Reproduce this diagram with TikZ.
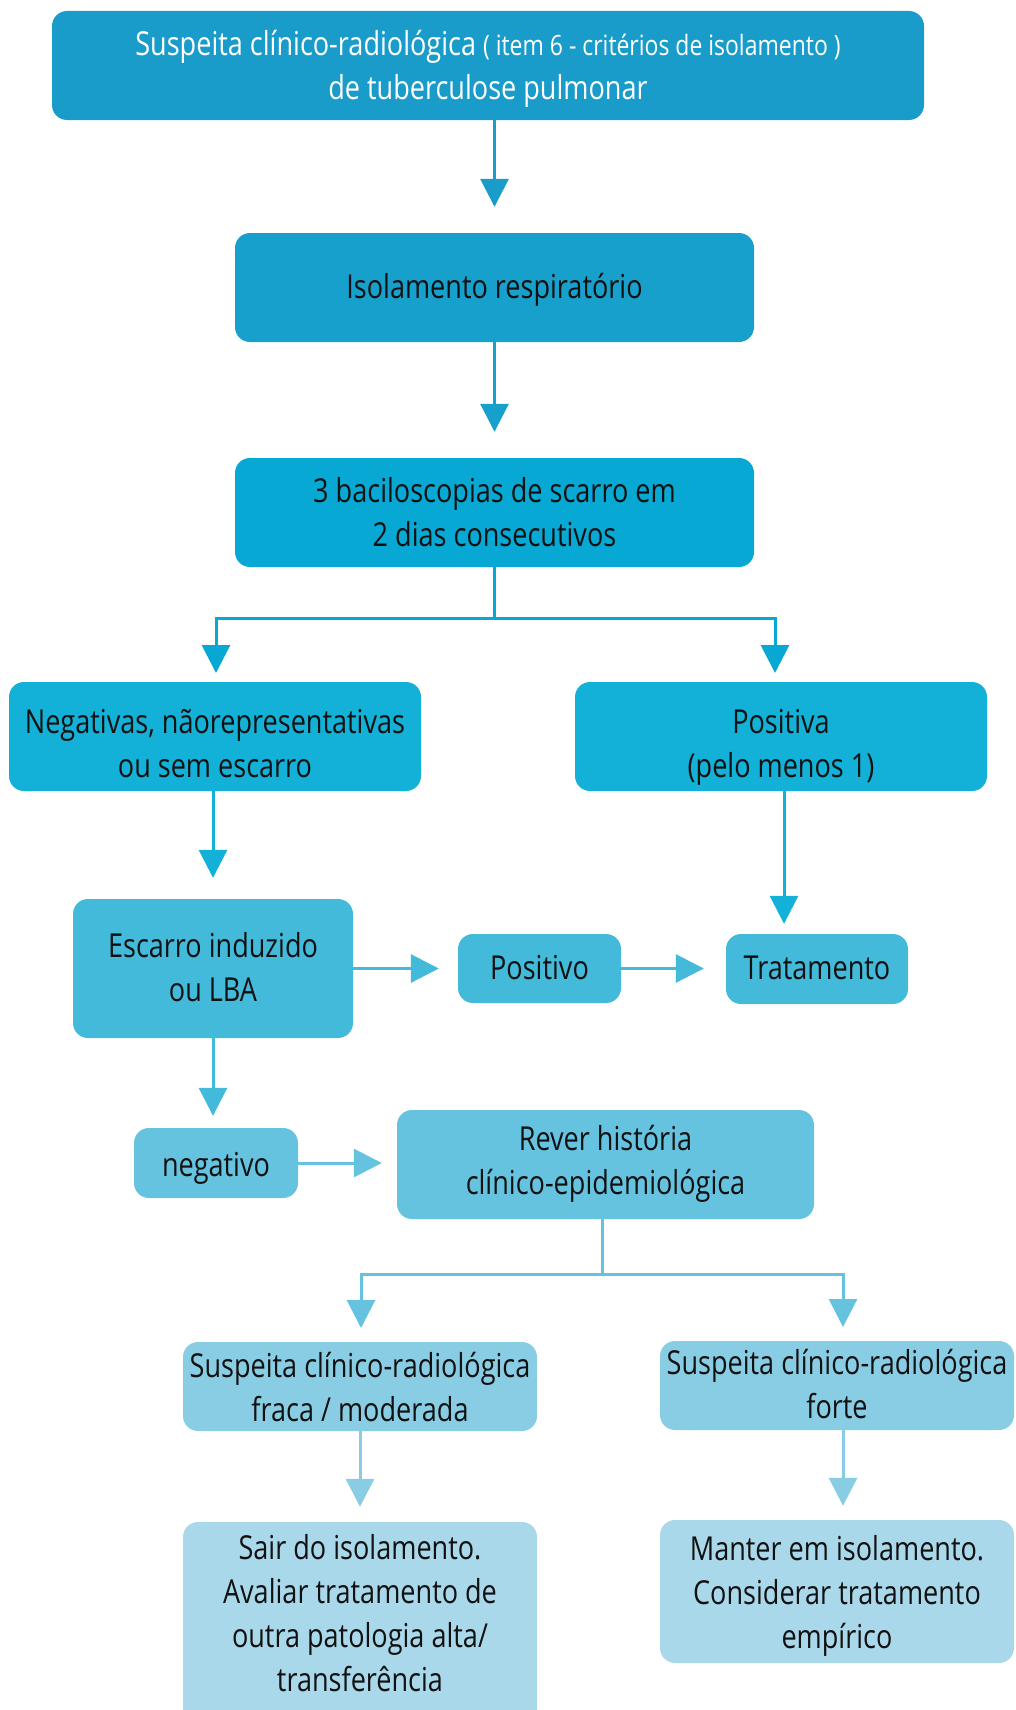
\documentclass[tikz,border=0pt]{standalone}
\usepackage{fontspec}
\setmainfont[FakeStretch=0.82]{Open Sans}
\usetikzlibrary{arrows.meta,calc}
\definecolor{cA}{HTML}{199CC9}
\definecolor{cB}{HTML}{18A0CC}
\definecolor{cC}{HTML}{07A8D3}
\definecolor{cD}{HTML}{13B1D7}
\definecolor{cE}{HTML}{44BADB}
\definecolor{cF}{HTML}{65C3E0}
\definecolor{cG}{HTML}{89CDE4}
\definecolor{cH}{HTML}{A9D8EB}
\definecolor{txt}{HTML}{111111}
\newcommand{\tb}[2][-3pt]{\raisebox{#1}[\height][\depth]{\begin{tabular}{@{}c@{}}#2\end{tabular}}}
\begin{document}
\begin{tikzpicture}[x=1pt,y=-1pt,
  box/.style={rounded corners=15pt, inner sep=0pt, align=center, text=txt,
    font=\fontsize{33}{44}\selectfont},
  ln/.style={line width=3pt},
  arr/.style={line width=3pt, -{Triangle[length=28pt,width=28pt]}}]
\clip (0,0) rectangle (1015,1710);
% nodes
\node[box, fill=cA, text=white, minimum width=872pt, minimum height=109pt] (top) at (488,65.5)
  {\tb{Suspeita clínico-radiológica {\fontsize{28}{44}\selectfont( item 6 - critérios de isolamento )}\\de tuberculose pulmonar}};
\node[box, fill=cB, minimum width=519pt, minimum height=109pt] (iso) at (494.5,287.5) {\tb[-2pt]{Isolamento respiratório}};
\node[box, fill=cC, minimum width=519pt, minimum height=109pt] (bac) at (494.5,512.5) {\tb{3 baciloscopias de scarro em\\2 dias consecutivos}};
\node[box, fill=cD, minimum width=412pt, minimum height=109pt] (neg) at (215,736.5) {\tb[-10pt]{Negativas, nãorepresentativas\\ou sem escarro}};
\node[box, fill=cD, minimum width=412pt, minimum height=109pt] (pos) at (781,736.5) {\tb[-10pt]{Positiva\\(pelo menos 1)}};
\node[box, fill=cE, minimum width=280pt, minimum height=139pt] (esc) at (213,968.5) {\tb[-2pt]{Escarro induzido\\ou LBA}};
\node[box, fill=cE, minimum width=163pt, minimum height=69pt] (pvo) at (539.5,968.5) {\tb[-2pt]{Positivo}};
\node[box, fill=cE, minimum width=182pt, minimum height=70pt] (trat) at (817,969) {\tb[-1.5pt]{Tratamento}};
\node[box, fill=cF, minimum width=164pt, minimum height=70pt] (ngv) at (216,1163) {\tb[-4.5pt]{negativo}};
\node[box, fill=cF, minimum width=417pt, minimum height=109pt] (rev) at (605.5,1164.5) {\tb[1pt]{Rever história\\clínico-epidemiológica}};
\node[box, fill=cG, minimum width=354pt, minimum height=89pt] (fraca) at (360,1386.5) {\tb[-4.5pt]{Suspeita clínico-radiológica\\fraca / moderada}};
\node[box, fill=cG, minimum width=354pt, minimum height=89pt] (forte) at (837,1385.5) {\tb[-2pt]{Suspeita clínico-radiológica\\forte}};
\node[box, fill=cH, minimum width=354pt, minimum height=203pt] (sair) at (360,1623.5)
  {\tb[6.5pt]{Sair do isolamento.\\Avaliar tratamento de\\outra patologia alta/\\transferência}};
\node[box, fill=cH, minimum width=354pt, minimum height=143pt] (mant) at (837,1591.5) {\tb[-4.5pt]{Manter em isolamento.\\Considerar tratamento\\empírico}};
% coordinates
\coordinate (bj) at (494,618);
\coordinate (bl) at (216,682);
\coordinate (br) at (775,682);
\coordinate (rj) at (602,1274);
\coordinate (rl) at (361,1342);
\coordinate (rr) at (843,1341);
% connectors
\draw[arr, cA, shorten >=26pt] (top.south -| iso.north) -- (iso.north);
\draw[arr, cB, shorten >=26pt] (iso.south) -- (bac.north);
\draw[ln, cC] (bac.south -| bj) -- (bj);
\draw[arr, cC, shorten >=9pt] (bj) -| (bl);
\draw[arr, cC, shorten >=9pt] (bj) -| (br);
\draw[arr, cD, shorten >=21pt] (neg.south -| esc.north) -- (esc.north);
\draw[arr, cD, shorten >=10pt] (pos.south) ++(3,0) coordinate (pp) -- (pp |- trat.north);
\draw[arr, cE, shorten >=19pt] (esc.east) -- (pvo.west);
\draw[arr, cE, shorten >=22pt] (pvo.east) -- (pvo.east -| trat.west);
\draw[arr, cE, shorten >=12pt] (esc.south) -- (esc.south |- ngv.north);
\draw[arr, cF, shorten >=15pt] (ngv.east) -- (ngv.east -| rev.west);
\draw[ln, cF] (rev.south -| rj) -- (rj);
\draw[arr, cF, shorten >=14pt] (rj) -| (rl);
\draw[arr, cF, shorten >=14pt] (rj) -| (rr);
\draw[arr, cG, shorten >=15pt] (fraca.south) -- (sair.north);
\draw[arr, cG, shorten >=14pt] (forte.south -| rr) -- (rr |- mant.north);
\end{tikzpicture}
\end{document}
